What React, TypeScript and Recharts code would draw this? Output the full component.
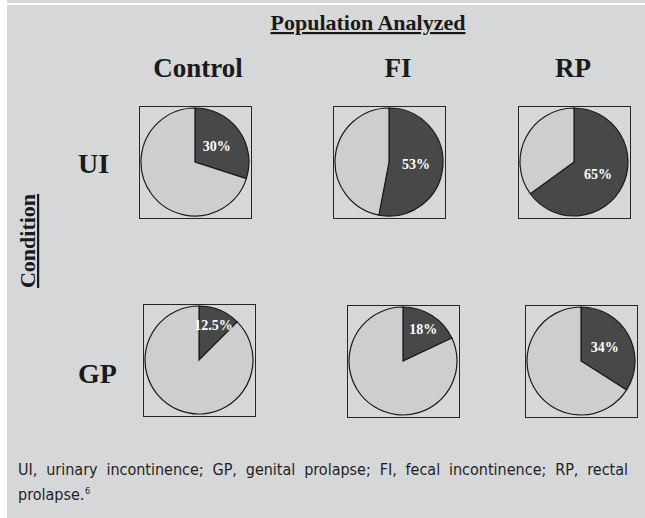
import { PieChart, Pie, Cell } from 'recharts';

const columns = ['Control', 'FI', 'RP'];
const rows = ['UI', 'GP'];
const uiShares = [30, 53, 65];
const gpShares = [12.5, 18, 34];

const DARK = '#474948';
const LIGHT = '#cdced0';
const BG = '#d6d7d9';
const RADIAN = Math.PI / 180;

// frame positions (left, top) of each pie, row by row
const boxes = [
  [[139, 106], [333, 106], [518, 106]],
  [[143, 304], [347, 305], [525, 305]],
];

const renderLabel = (props: any) => {
  const { cx, cy, midAngle, outerRadius, index, value } = props;
  if (index !== 0) return null;
  const r = outerRadius * (value < 20 ? 0.7 : 0.5);
  const x = cx + r * Math.cos(-midAngle * RADIAN);
  const y = cy + r * Math.sin(-midAngle * RADIAN);
  return (
    <text
      x={x}
      y={y}
      fill="#ffffff"
      textAnchor="middle"
      dominantBaseline="central"
      fontFamily="'Liberation Serif', 'Times New Roman', serif"
      fontWeight="bold"
      fontSize={14}
    >
      {value}%
    </text>
  );
};

const SmallPie = ({ share, left, top }: { share: number; left: number; top: number }) => {
  const data = [
    { name: 'affected', value: share },
    { name: 'other', value: 100 - share },
  ];
  return (
    <div
      style={{
        position: 'absolute',
        left,
        top,
        width: 113,
        height: 113,
        boxSizing: 'border-box',
        border: '1.5px solid #262626',
      }}
    >
      <PieChart width={110} height={110} margin={{ top: 0, right: 0, bottom: 0, left: 0 }}>
        <Pie
          data={data}
          dataKey="value"
          cx="50%"
          cy="50%"
          outerRadius={54}
          startAngle={90}
          endAngle={-270}
          stroke="#1a1a1a"
          strokeWidth={1.2}
          label={renderLabel}
          labelLine={false}
          isAnimationActive={false}
        >
          <Cell fill={DARK} />
          <Cell fill={LIGHT} />
        </Pie>
      </PieChart>
    </div>
  );
};

const serif = "'Liberation Serif', 'Times New Roman', serif";
const captionFont: React.CSSProperties = {
  position: 'absolute',
  left: 18,
  fontFamily: "'Liberation Sans Narrow', 'DejaVu Sans Condensed', sans-serif",
  fontSize: 16,
  lineHeight: '25px',
  color: '#1f1f1f',
};

const App = () => {
  const shares = [uiShares, gpShares];
  const headerX = [198, 398, 573];
  const rowY = [173, 383];

  return (
    <div style={{ position: 'fixed', left: 0, top: 0, width: 645, height: 518, background: '#ffffff', overflow: 'hidden' }}>
      <div style={{ position: 'absolute', left: 7, top: 0, width: 638, height: 3, background: BG }} />
      <div style={{ position: 'absolute', left: 7, top: 5, width: 638, height: 513, background: BG }} />

      <svg width={645} height={518} style={{ position: 'absolute', left: 0, top: 0 }}>
        <text x={368} y={30} textAnchor="middle" fontFamily={serif} fontWeight="bold" fontSize={22} fill="#1a1a1a" textDecoration="underline">
          Population Analyzed
        </text>
        {columns.map((c, i) => (
          <text key={c} x={headerX[i]} y={77} textAnchor="middle" fontFamily={serif} fontWeight="bold" fontSize={27} fill="#1a1a1a">
            {c}
          </text>
        ))}
        {rows.map((r, i) => (
          <text key={r} x={78} y={rowY[i]} fontFamily={serif} fontWeight="bold" fontSize={28} fill="#1a1a1a">
            {r}
          </text>
        ))}
        <text
          x={0}
          y={0}
          transform="translate(35 241) rotate(-90)"
          textAnchor="middle"
          fontFamily={serif}
          fontWeight="bold"
          fontSize={22}
          fill="#1a1a1a"
          textDecoration="underline"
        >
          Condition
        </text>
      </svg>

      {shares.map((rowShares, ri) =>
        rowShares.map((s, ci) => (
          <SmallPie key={`${ri}-${ci}`} share={s} left={boxes[ri][ci][0]} top={boxes[ri][ci][1]} />
        ))
      )}

      <div style={{ ...captionFont, top: 457, width: 610, textAlign: 'justify', textAlignLast: 'justify' }}>
        UI, urinary incontinence; GP, genital prolapse; FI, fecal incontinence; RP, rectal
      </div>
      <div style={{ ...captionFont, top: 482 }}>prolapse.</div>
      <div style={{ ...captionFont, left: 85, top: 486, fontSize: 9, lineHeight: '10px' }}>6</div>
    </div>
  );
};

export default App;
